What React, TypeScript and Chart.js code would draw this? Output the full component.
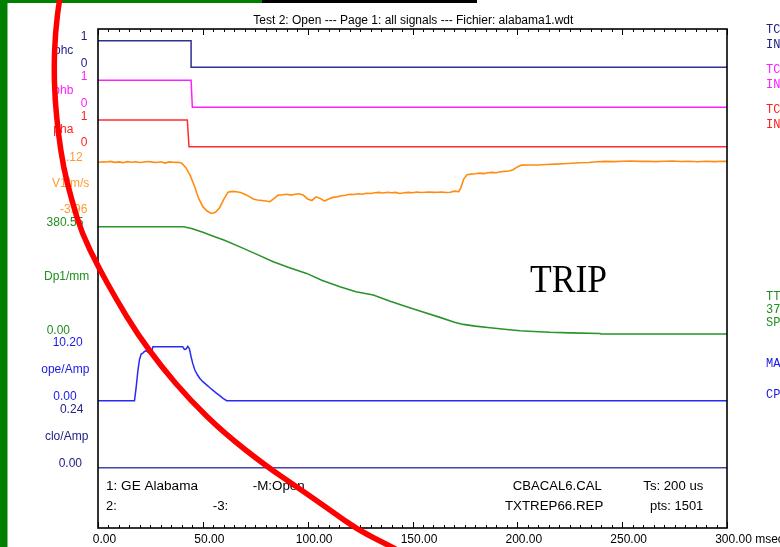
import React, { useEffect, useRef } from "react";
import { Chart, registerables } from "chart.js";
Chart.register(...registerables);

// ---------------- DATA ----------------
const TITLE = "Test 2: Open --- Page 1: all signals --- Fichier: alabama1.wdt";
const X_MIN = 0;
const X_MAX = 300;
const X_MINOR_STEP = 5;
const X_MAJOR_STEP = 50;
const xTickValues = [0, 50, 100, 150, 200, 250, 300];
const xTickLabels = ["0.00", "50.00", "100.00", "150.00", "200.00", "250.00", "300.00"];
const xUnit = "msec";

const channelNames = ["phc", "phb", "pha", "V1/m/s", "Dp1/mm", "ope/Amp", "clo/Amp"];
const channelTopValues = [1, 1, 1, 1.12, 380.55, 10.2, 0.24];
const channelBottomValues = [0, 0, 0, -3.96, 0, 0, 0];
const channelTopLabels = ["1", "1", "1", "1.12", "380.55", "10.20", "0.24"];
const channelBottomLabels = ["0", "0", "0", "-3.96", "0.00", "0.00", "0.00"];

const phcTime = [0, 44.4, 44.4, 300];
const phcValues = [1, 1, 0, 0];
const phbTime = [0, 44.4, 45.0, 300];
const phbValues = [1, 1, 0, 0];
const phaTime = [0, 42.6, 43.4, 300];
const phaValues = [1, 1, 0, 0];

const v1Time = [
  0, 2, 4, 6, 8, 10, 12, 14, 16, 18, 20, 22, 24, 26, 28, 30, 32, 34, 36, 38,
  40, 42, 44, 46, 48, 50, 52, 54, 56, 58, 60, 62, 64, 66, 68, 70, 72, 74, 76, 78,
  80, 82, 84, 86, 88, 90, 92, 94, 96, 98, 100, 102, 104, 106, 108, 110, 112, 114, 116, 118,
  120, 122, 124, 126, 128, 130, 132, 134, 136, 138, 140, 142, 144, 146, 148, 150, 152, 154, 156, 158,
  160, 162, 164, 166, 168, 170, 172, 173, 174.5, 176, 178, 180, 182, 184, 186, 188, 190, 192, 194, 196,
  198, 200, 202, 206, 210, 214, 218, 222, 226, 230, 234, 238, 242, 246, 250, 254, 258, 262, 266, 270,
  274, 278, 282, 286, 290, 294, 298, 300,
];
const v1Values = [
  0.98, 1.05, 1.02, 1.08, 0.99, 1.03, 0.96, 1.06, 1.0, 1.04, 0.97, 1.02, 1.07, 1.01, 0.98, 1.05, 0.92, 1.03, 1.0, 0.99,
  0.9, 0.45, -0.3, -1.3, -2.5, -3.3, -3.72, -3.96, -3.85, -3.4, -2.6, -1.9, -1.82, -1.85, -1.92, -2.1, -2.3, -2.55, -2.65, -2.7,
  -2.75, -2.82, -2.5, -2.18, -2.15, -2.1, -2.18, -2.1, -2.05, -2.2, -2.55, -2.7, -2.35, -2.5, -2.75, -2.55, -2.4, -2.35, -2.25, -2.2,
  -2.1, -2.12, -2.05, -2.1, -2.0, -2.02, -1.95, -1.92, -1.98, -1.9, -1.95, -1.92, -2.02, -1.95, -1.92, -1.95, -1.88, -1.93, -1.9, -1.88,
  -1.92, -1.9, -1.88, -1.93, -1.9, -1.8, -1.85, -1.5, -0.6, -0.2, -0.15, -0.12, -0.05, -0.1, -0.02, 0.02, -0.02, 0.08, 0.12, 0.15,
  0.28, 0.55, 0.72, 0.74, 0.73, 0.78, 0.82, 0.86, 0.9, 0.95, 0.98, 1.05, 1.08, 1.06, 1.1, 1.12, 1.08, 1.1, 1.06, 1.09,
  1.12, 1.07, 1.1, 1.05, 1.09, 1.06, 1.1, 1.08,
];

const dp1Time = [0, 41, 45, 50, 55, 60, 67.7, 75, 83.6, 91, 99.5, 107, 115.4, 123, 131.3, 139, 147.2, 155, 163.1, 170, 174.2, 180, 187, 195, 201.3, 208, 215.6, 225, 239.4, 240, 300];
const dp1Values = [380.55, 380.55, 373.6, 361, 347, 333, 309, 285, 256, 236, 215, 190, 167.5, 150, 138, 117, 96.7, 78, 59, 42, 34, 28, 22.3, 16, 11.7, 9, 6, 4, 2, 0, 0];

const opeTime = [0, 17.4, 18.2, 19.0, 19.8, 20.6, 21.4, 22.2, 23.0, 23.8, 24.6, 25.4, 26.2, 40.4, 41.2, 42.0, 42.8, 43.6, 44.4, 45.2, 46.2, 47.4, 48.6, 50.0, 51.8, 53.5, 55.0, 56.6, 58.2, 59.8, 61.4, 300];
const opeValues = [0, 0, 2.5, 5.6, 7.8, 8.8, 9.0, 9.3, 9.45, 9.2, 9.05, 9.1, 10.2, 10.2, 9.7, 9.75, 10.25, 9.8, 8.3, 7.0, 5.8, 4.9, 4.2, 3.6, 3.0, 2.4, 1.9, 1.4, 0.9, 0.4, 0, 0];

const cloTime = [0, 300];
const cloValues = [0, 0];

const bottomInfoLeft = ["1: GE Alabama", "2:"];
const bottomInfoMid = ["-M:Open", "-3:"];
const bottomInfoFiles = ["CBACAL6.CAL", "TXTREP66.REP"];
const bottomInfoRight = ["Ts: 200 us", "pts: 1501"];
const sideNotes = ["TC", "IN", "TC", "IN", "TC", "IN", "TT", "37", "SP", "MA", "CP"];
const annotationText = "TRIP";

// ---------------- LAYOUT / STYLE ----------------
const AREA = { left: 98, top: 29, right: 727, bottom: 528 };
const W = 780;
const H = 547;
const CH_PIX = [
  [40.7, 67.3],
  [80.3, 107.3],
  [120, 146.7],
  [161, 213.5],
  [226.7, 334],
  [346.7, 400.7],
  [413.5, 467.7],
];
const LINE_COLORS = ["#30308f", "#ff20ff", "#ff2d2d", "#ff8c10", "#2a932a", "#2a2af5", "#4646a6"];
const TEXT_COLORS = ["#22228a", "#ff20ff", "#ff2020", "#ff9a30", "#1f8f1f", "#1a1ae6", "#222288"];
// right edge x of [top label, name, bottom label]
const LABEL_X = [
  [87.3, 73.3, 87.3],
  [87.3, 73.3, 87.3],
  [87.3, 73.3, 87.3],
  [82.7, 89.3, 87.3],
  [83.3, 89.3, 70],
  [82.7, 89.3, 76.7],
  [83.3, 88.3, 82],
];
const SIDE_Y = [30, 45, 70, 85, 110, 125, 297, 310, 323, 364, 395];
const SIDE_COLORS = ["#22228a", "#22228a", "#ff20ff", "#ff20ff", "#ff2020", "#ff2020", "#1f8f1f", "#1f8f1f", "#1f8f1f", "#1a1ae6", "#1a1ae6"];
const ARC_PTS = [
  [61, -6], [59.3, 0], [55.3, 33], [54, 67], [55, 100], [58.3, 133], [63.3, 167], [71.7, 200], [81.7, 233],
  [98.3, 267], [116.7, 300], [136.7, 333], [161.7, 367], [190, 400], [224, 433], [266, 466], [297, 487],
  [330, 510], [358, 530], [392, 547], [404, 554],
];

const SANS = "Liberation Sans, Arial, sans-serif";

function axisRange(i: number) {
  const [pt, pb] = CH_PIX[i];
  const vt = channelTopValues[i];
  const vb = channelBottomValues[i];
  const k = (pb - pt) / (vt - vb);
  return { min: vb - (AREA.bottom - pb) / k, max: vt + (pt - AREA.top) / k };
}

function drawText(
  ctx: CanvasRenderingContext2D,
  s: string,
  x: number,
  y: number,
  align: CanvasTextAlign,
  font: string,
  color: string,
  width?: number,
  baseline: CanvasTextBaseline = "middle"
) {
  ctx.save();
  ctx.font = font;
  ctx.fillStyle = color;
  ctx.textAlign = align;
  ctx.textBaseline = baseline;
  ctx.translate(x, y);
  if (width) {
    const m = ctx.measureText(s).width;
    if (m > 0) ctx.scale(width / m, 1);
  }
  ctx.fillText(s, 0, 0);
  ctx.restore();
}

const decorPlugin = {
  id: "decor",
  beforeDraw(chart: any) {
    const ctx = chart.ctx as CanvasRenderingContext2D;
    ctx.save();
    ctx.fillStyle = "#ffffff";
    ctx.fillRect(0, 0, W, H);
    ctx.restore();
  },
  afterDraw(chart: any) {
    const ctx = chart.ctx as CanvasRenderingContext2D;
    const xs = chart.scales.x;
    ctx.save();
    // frame
    ctx.strokeStyle = "#000";
    ctx.lineWidth = 1.6;
    ctx.strokeRect(AREA.left, AREA.top, AREA.right - AREA.left, AREA.bottom - AREA.top);
    // ticks
    ctx.lineWidth = 1;
    ctx.beginPath();
    for (let v = X_MIN; v <= X_MAX; v += X_MINOR_STEP) {
      const px = Math.round(xs.getPixelForValue(v)) + 0.5;
      const len = v % X_MAJOR_STEP === 0 ? 6 : 3;
      ctx.moveTo(px, AREA.top);
      ctx.lineTo(px, AREA.top + len);
      ctx.moveTo(px, AREA.bottom);
      ctx.lineTo(px, AREA.bottom - len);
    }
    ctx.stroke();
    ctx.restore();

    // x tick labels
    const f12 = `12px ${SANS}`;
    ctx.font = f12;
    xTickValues.forEach((v, i) => {
      const px = xs.getPixelForValue(v) + 6.5;
      const w = ctx.measureText(xTickLabels[i]).width;
      const s = i === xTickValues.length - 1 ? `${xTickLabels[i]} ${xUnit}` : xTickLabels[i];
      drawText(ctx, s, px - w / 2, 540, "left", f12, "#000");
    });

    // title
    drawText(ctx, TITLE, 413.3, 20.7, "center", f12, "#000", 320);

    // channel labels
    channelNames.forEach((name, i) => {
      const sc = chart.scales["y" + i];
      const yt = sc.getPixelForValue(channelTopValues[i]) - 3.6;
      const yb = sc.getPixelForValue(channelBottomValues[i]) - 3.6;
      const col = TEXT_COLORS[i];
      drawText(ctx, channelTopLabels[i], LABEL_X[i][0], yt, "right", f12, col);
      drawText(ctx, name, LABEL_X[i][1], (yt + yb) / 2, "right", f12, col);
      drawText(ctx, channelBottomLabels[i], LABEL_X[i][2], yb, "right", f12, col);
    });

    // info texts in plot
    drawText(ctx, bottomInfoLeft[0], 106, 486.7, "left", f12, "#000", 92);
    drawText(ctx, bottomInfoLeft[1], 106, 506.7, "left", f12, "#000", 10.7);
    drawText(ctx, bottomInfoMid[0], 252.7, 486.7, "left", f12, "#000", 52);
    drawText(ctx, bottomInfoMid[1], 212.7, 506.7, "left", f12, "#000", 15.6);
    drawText(ctx, bottomInfoFiles[0], 512.7, 486.7, "left", f12, "#000", 89);
    drawText(ctx, bottomInfoFiles[1], 505, 506.7, "left", f12, "#000", 98.3);
    drawText(ctx, bottomInfoRight[0], 643.3, 486.7, "left", f12, "#000", 60);
    drawText(ctx, bottomInfoRight[1], 650, 506.7, "left", f12, "#000", 53.3);

    // TRIP
    drawText(ctx, annotationText, 530, 291.5, "left", `40px "Liberation Serif", "Times New Roman", serif`, "#000", 77, "alphabetic");

    // side notes (monospace)
    sideNotes.forEach((s, i) => {
      drawText(ctx, s, 766, SIDE_Y[i], "left", `12px "Liberation Mono", "Courier New", monospace`, SIDE_COLORS[i]);
    });

    // green frame bars and black top bar
    ctx.save();
    ctx.fillStyle = "#008000";
    ctx.fillRect(0, 0, 7.5, H);
    ctx.fillRect(0, 0, 262, 3);
    ctx.fillStyle = "#000";
    ctx.fillRect(262, 0, 215, 3);

    // red hand-drawn arc
    ctx.strokeStyle = "#ff0000";
    ctx.lineWidth = 5.5;
    ctx.lineCap = "round";
    ctx.lineJoin = "round";
    ctx.beginPath();
    ctx.moveTo(ARC_PTS[0][0], ARC_PTS[0][1]);
    for (let i = 1; i < ARC_PTS.length - 1; i++) {
      const mx = (ARC_PTS[i][0] + ARC_PTS[i + 1][0]) / 2;
      const my = (ARC_PTS[i][1] + ARC_PTS[i + 1][1]) / 2;
      ctx.quadraticCurveTo(ARC_PTS[i][0], ARC_PTS[i][1], mx, my);
    }
    const last = ARC_PTS[ARC_PTS.length - 1];
    ctx.lineTo(last[0], last[1]);
    ctx.stroke();
    ctx.restore();
  },
};

function pts(t: number[], v: number[]) {
  return t.map((x, i) => ({ x, y: v[i] }));
}

export default function App() {
  const ref = useRef<HTMLCanvasElement | null>(null);
  useEffect(() => {
    if (!ref.current) return;
    const series = [
      pts(phcTime, phcValues),
      pts(phbTime, phbValues),
      pts(phaTime, phaValues),
      pts(v1Time, v1Values),
      pts(dp1Time, dp1Values),
      pts(opeTime, opeValues),
      pts(cloTime, cloValues),
    ];
    const scales: any = {
      x: { type: "linear", min: X_MIN, max: X_MAX, display: false },
    };
    channelNames.forEach((_, i) => {
      const r = axisRange(i);
      scales["y" + i] = { type: "linear", display: false, min: r.min, max: r.max };
    });
    const chart = new Chart(ref.current, {
      type: "line",
      data: {
        datasets: series.map((d, i) => ({
          label: channelNames[i],
          data: d,
          yAxisID: "y" + i,
          borderColor: LINE_COLORS[i],
          borderWidth: i === 3 || i === 4 ? 1.6 : 1.5,
          pointRadius: 0,
          fill: false,
          tension: 0,
        })),
      },
      options: {
        responsive: false,
        animation: false,
        devicePixelRatio: 1,
        parsing: false as any,
        layout: { padding: { left: AREA.left, top: AREA.top, right: W - AREA.right, bottom: H - AREA.bottom } },
        plugins: { legend: { display: false }, tooltip: { enabled: false }, title: { display: false } },
        scales,
      },
      plugins: [decorPlugin],
    });
    return () => chart.destroy();
  }, []);
  return (
    <div style={{ position: "fixed", left: 0, top: 0, width: W, height: H, background: "#fff" }}>
      <canvas ref={ref} width={W} height={H} style={{ width: W, height: H, display: "block" }} />
    </div>
  );
}
